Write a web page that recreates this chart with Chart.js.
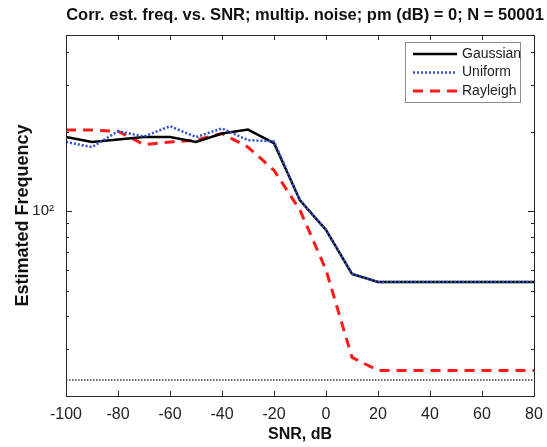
<!DOCTYPE html>
<html>
<head>
<meta charset="utf-8">
<script src="https://cdn.jsdelivr.net/npm/chart.js@4"></script>
<style>
  html, body { margin: 0; padding: 0; background: #fff; }
</style>
</head>
<body>
<canvas id="myChart" width="547" height="447"></canvas>
<script>
// values (SNR in dB, estimated frequency)
const snr = [-100, -90, -80, -70, -60, -50, -40, -30, -20, -10, 0, 10, 20, 30, 40, 50, 60, 70, 80];
const gaussian = [191, 183, 187, 191, 191, 183, 197, 204, 181, 110, 85, 58, 54, 54, 54, 54, 54, 54, 54];
const uniform  = [183, 175, 201, 192, 210, 191, 206, 186, 184, 110, 85, 58, 54, 54, 54, 54, 54, 54, 54];
const rayleigh = [203, 203, 201, 179, 183, 186, 197, 175, 143, 101, 60, 28, 25, 25, 25, 25, 25, 25, 25];
const refLevel = 23;   // dotted black line near the bottom

const xTicks = [-100, -80, -60, -40, -20, 0, 20, 40, 60, 80];
const yTicks = [20, 30, 40, 50, 60, 70, 80, 90, 100, 200, 300, 400];
const seriesNames = ['Gaussian', 'Uniform', 'Rayleigh'];
const titleText = 'Corr. est. freq. vs. SNR; multip. noise; pm (dB) = 0; N = 50001';

const FONT = '"Liberation Sans", Arial, sans-serif';
const toPts = (arr) => arr.map((v, i) => ({x: snr[i], y: v}));

// matlab style box with inward ticks, legend and title
const boxTicks = {
  id: 'boxTicks',
  afterDraw(chart) {
    const c = chart.ctx, a = chart.chartArea;
    const xs = chart.scales.x, ys = chart.scales.y;
    c.save();
    c.strokeStyle = '#262626';
    c.lineWidth = 1;
    xs.ticks.forEach(t => {
      const px = Math.round(xs.getPixelForValue(t.value)) + 0.5;
      c.beginPath();
      c.moveTo(px, a.bottom); c.lineTo(px, a.bottom - 5);
      c.moveTo(px, a.top); c.lineTo(px, a.top + 5);
      c.stroke();
    });
    ys.ticks.forEach(t => {
      const py = Math.round(ys.getPixelForValue(t.value)) + 0.5;
      const len = t.value === 100 ? 6 : 3;
      c.beginPath();
      c.moveTo(a.left, py); c.lineTo(a.left + len, py);
      c.moveTo(a.right, py); c.lineTo(a.right - len, py);
      c.stroke();
    });
    c.strokeRect(Math.round(a.left) + 0.5, Math.round(a.top) + 0.5,
                 Math.round(a.right - a.left), Math.round(a.bottom - a.top));

    // title
    c.fillStyle = '#111';
    c.font = 'bold 16.5px ' + FONT;
    c.textAlign = 'center';
    c.textBaseline = 'middle';
    c.fillText(titleText, 305, 15);

    // legend box, top right
    const lx = 405, ly = 42, lw = 115, lh = 60;
    c.fillStyle = '#fff';
    c.fillRect(lx, ly, lw, lh);
    c.strokeStyle = '#8c8c8c';
    c.strokeRect(lx + 0.5, ly + 0.5, lw, lh);
    c.font = '14px ' + FONT;
    c.textAlign = 'left';
    c.fillStyle = '#222';
    seriesNames.forEach((name, i) => {
      const ds = chart.data.datasets.find(d => d.label === name);
      const y = ly + 12 + i * 18.5;
      c.save();
      c.strokeStyle = ds.borderColor;
      c.lineWidth = ds.borderWidth;
      c.setLineDash(ds.borderDash || []);
      c.beginPath();
      c.moveTo(lx + 8, y); c.lineTo(lx + 52, y);
      c.stroke();
      c.restore();
      c.fillText(name, lx + 57, y);
    });
    c.restore();
  }
};

const ctx = document.getElementById('myChart').getContext('2d');
const myChart = new Chart(ctx, {
  type: 'line',
  data: {
    datasets: [
      {label: 'Uniform', data: toPts(uniform), borderColor: '#2f4fd0', borderWidth: 2.5,
       borderDash: [2, 2], pointRadius: 0, fill: false, order: 0},
      {label: 'Gaussian', data: toPts(gaussian), borderColor: '#000', borderWidth: 2.5,
       pointRadius: 0, fill: false, order: 1},
      {label: 'Rayleigh', data: toPts(rayleigh), borderColor: '#ff1a1a', borderWidth: 3,
       borderDash: [10, 7], pointRadius: 0, fill: false, order: 2},
      {label: 'ref', data: [{x: snr[0], y: refLevel}, {x: snr[snr.length - 1], y: refLevel}],
       borderColor: '#333', borderWidth: 1.5, borderDash: [1.5, 1.5], pointRadius: 0, fill: false, order: 3}
    ]
  },
  options: {
    responsive: false,
    animation: false,
    devicePixelRatio: 1,
    layout: {padding: {left: 0, right: 13, top: 35, bottom: 0}},
    plugins: {
      legend: {display: false},
      tooltip: {enabled: false},
      title: {display: false}
    },
    scales: {
      x: {
        type: 'linear',
        min: -100, max: 80,
        afterBuildTicks: (s) => { s.ticks = xTicks.map(v => ({value: v})); },
        afterFit: (s) => { s.height = 51; s.paddingLeft = 0; s.paddingRight = 0; },
        grid: {display: false, drawTicks: false},
        border: {display: false},
        ticks: {color: '#222', padding: 9, maxRotation: 0, autoSkip: false,
                font: {family: FONT, size: 16}},
        title: {display: true, text: 'SNR, dB', color: '#111', padding: {top: 0, bottom: 3},
                font: {family: FONT, size: 16, weight: 'bold'}}
      },
      y: {
        type: 'logarithmic',
        min: 20, max: 465,
        afterBuildTicks: (s) => { s.ticks = yTicks.map(v => ({value: v, major: v === 100})); },
        afterFit: (s) => { s.width = 66; s.paddingTop = 0; s.paddingBottom = 0; },
        grid: {display: false, drawTicks: false},
        border: {display: false},
        ticks: {color: '#222', padding: 12, autoSkip: false,
                callback: (v) => v === 100 ? '10²' : '',
                font: {family: FONT, size: 15}},
        title: {display: true, text: 'Estimated Frequency', color: '#111', padding: {top: 12, bottom: 0},
                font: {family: FONT, size: 18, weight: 'bold'}}
      }
    }
  },
  plugins: [boxTicks]
});
</script>
</body>
</html>
